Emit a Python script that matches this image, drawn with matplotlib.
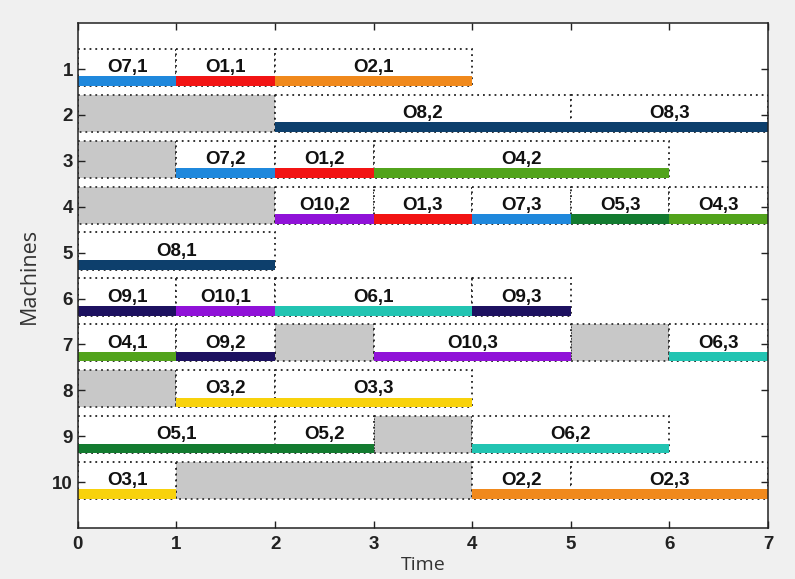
import matplotlib
matplotlib.use("Agg")
import matplotlib.pyplot as plt

# operations: machine, job, step, start, end
op_machine = [1, 1, 1, 2, 2, 3, 3, 3, 4, 4, 4, 4, 4, 5, 6, 6, 6, 6,
              7, 7, 7, 7, 8, 8, 9, 9, 9, 10, 10, 10]
op_job = [7, 1, 2, 8, 8, 7, 1, 4, 10, 1, 7, 5, 4, 8, 9, 10, 6, 9,
          4, 9, 10, 6, 3, 3, 5, 5, 6, 3, 2, 2]
op_step = [1, 1, 1, 2, 3, 2, 2, 2, 2, 3, 3, 3, 3, 1, 1, 1, 1, 3,
           1, 2, 3, 3, 2, 3, 1, 2, 2, 1, 2, 3]
op_start = [0, 1, 2, 2, 5, 1, 2, 3, 2, 3, 4, 5, 6, 0, 0, 1, 2, 4,
            0, 1, 3, 6, 1, 2, 0, 2, 4, 0, 4, 5]
op_end = [1, 2, 4, 5, 7, 2, 3, 6, 3, 4, 5, 6, 7, 2, 1, 2, 4, 5,
          1, 2, 5, 7, 2, 4, 2, 3, 6, 1, 5, 7]

# idle periods
idle_machine = [2, 3, 4, 7, 7, 8, 9, 10]
idle_start = [0, 0, 0, 2, 5, 0, 3, 1]
idle_end = [2, 1, 2, 3, 6, 1, 4, 4]

job_colors = {
    1: "#f21414", 2: "#f0891c", 3: "#f8d20c", 4: "#52a31c", 5: "#137b30",
    6: "#22c4b2", 7: "#1f88dc", 8: "#0d3f6c", 9: "#1d1160", 10: "#9012d8",
}

machines = list(range(1, 11))
times = list(range(0, 8))

fig = plt.figure(figsize=(7.95, 5.79), dpi=100, facecolor="#f0f0f0")
ax = fig.add_axes([0.098, 0.088, 0.868, 0.872])

top, bot = -0.44, 0.37
bar_top = 0.16
dots = (0, (1, 2.2))

# idle blocks
for m, s, e in zip(idle_machine, idle_start, idle_end):
    ax.barh(m + (top + bot) / 2, e - s, left=s, height=bot - top,
            color="#c8c8c8", edgecolor="#333333", linestyle=dots,
            linewidth=1.3, zorder=1)

# operations
for m, j, k, s, e in zip(op_machine, op_job, op_step, op_start, op_end):
    ax.barh(m + (top + bot) / 2, e - s, left=s, height=bot - top,
            color="white", edgecolor="#222222", linestyle=dots,
            linewidth=1.3, zorder=1)
    ax.barh(m + (bar_top + bot) / 2, e - s, left=s, height=bot - bar_top,
            color=job_colors[j], linewidth=0, zorder=2)
    ax.text((s + e) / 2, m - 0.03, f"O{j},{k}", ha="center", va="center",
            fontsize=13.5, fontweight="bold", family="Liberation Sans",
            color="#111111", zorder=3)

ax.set_xlim(0, 7)
ax.set_ylim(11, 0)
ax.set_xticks(times)
ax.set_yticks(machines)
ax.tick_params(direction="in", length=5, top=True, right=True,
               labelsize=13.5, width=1, color="#222222")
ax.tick_params(axis="x", pad=6)
for lab in ax.get_xticklabels() + ax.get_yticklabels():
    lab.set_fontweight("bold")
    lab.set_family("Liberation Sans")
    lab.set_color("#222222")
for sp in ax.spines.values():
    sp.set_color("#222222")
    sp.set_linewidth(1.1)

ax.set_xlabel("Time", fontsize=14, family="Open Sans", color="#333333", labelpad=2)
ax.set_ylabel("Machines", fontsize=15.5, family="Open Sans", color="#333333", labelpad=9)

fig.savefig("out.png", dpi=100, facecolor=fig.get_facecolor())
